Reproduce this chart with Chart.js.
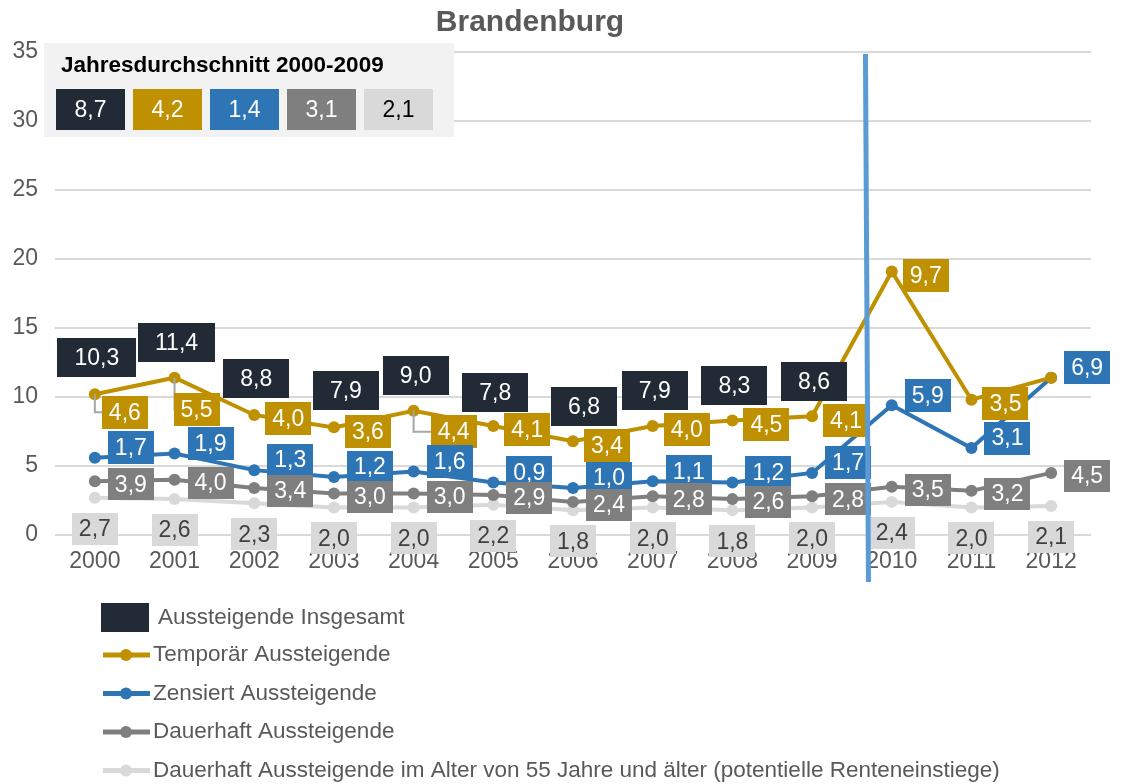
<!DOCTYPE html>
<html lang="de">
<head>
<meta charset="utf-8">
<title>Brandenburg</title>
<script src="https://cdn.jsdelivr.net/npm/chart.js@4.4.1/dist/chart.umd.min.js"></script>
<style>
  html, body { margin: 0; padding: 0; background: #fff; }
  #wrap { width: 1124px; height: 784px; position: relative; }
</style>
</head>
<body>
<div id="wrap"><canvas id="chart" width="1124" height="784"></canvas></div>
<script>
// Werte
const years = ['2000', '2001', '2002', '2003', '2004', '2005', '2006', '2007', '2008', '2009', '2010', '2011', '2012'];
const insgesamt = [10.3, 11.4, 8.8, 7.9, 9.0, 7.8, 6.8, 7.9, 8.3, 8.6, null, null, null];
// 2012: kein Etikett, Linie endet auf dem Zensiert-Punkt -> 0
const temporaer = [4.6, 5.5, 4.0, 3.6, 4.4, 4.1, 3.4, 4.0, 4.5, 4.1, 9.7, 3.5, 0];
const zensiert = [1.7, 1.9, 1.3, 1.2, 1.6, 0.9, 1.0, 1.1, 1.2, 1.7, 5.9, 3.1, 6.9];
const dauerhaft = [3.9, 4.0, 3.4, 3.0, 3.0, 2.9, 2.4, 2.8, 2.6, 2.8, 3.5, 3.2, 4.5];
const dauerhaft55 = [2.7, 2.6, 2.3, 2.0, 2.0, 2.2, 1.8, 2.0, 1.8, 2.0, 2.4, 2.0, 2.1];
const durchschnitt = [8.7, 4.2, 1.4, 3.1, 2.1]; // Jahresdurchschnitt 2000-2009
const yMin = 0, yMax = 35, yStep = 5;

const FONT = "'Liberation Sans', Arial, sans-serif";
const colors = {
  insgesamt: '#222a35',
  temporaer: '#bf9000',
  zensiert: '#2e75b6',
  dauerhaft: '#7f7f7f',
  dauerhaft55: '#d9d9d9'
};

// the lines are drawn stacked: dauerhaft, + zensiert, + temporaer
const zensiertTop = zensiert.map((v, i) => v + dauerhaft[i]);
const temporaerTop = temporaer.map((v, i) => v + zensiertTop[i]);

function fmt(v) {
  return v.toFixed(1).replace('.', ',');
}

function lineSet(label, data, color, raw) {
  return {
    label: label,
    data: data,
    raw: raw,
    borderColor: color,
    backgroundColor: color,
    borderWidth: 4,
    pointRadius: 6,
    pointBorderWidth: 0,
    pointBackgroundColor: color,
    tension: 0,
    fill: false
  };
}

const datasets = [
  lineSet('Temporär Aussteigende', temporaerTop, colors.temporaer, temporaer),
  lineSet('Zensiert Aussteigende', zensiertTop, colors.zensiert, zensiert),
  lineSet('Dauerhaft Aussteigende', dauerhaft, colors.dauerhaft, dauerhaft),
  lineSet('Dauerhaft Aussteigende im Alter von 55 Jahre und älter (potentielle Renteneinstiege)', dauerhaft55, colors.dauerhaft55, dauerhaft55),
  {
    label: 'Aussteigende Insgesamt',
    data: insgesamt,
    raw: insgesamt,
    showLine: false,
    pointRadius: 0,
    borderColor: colors.insgesamt,
    backgroundColor: colors.insgesamt
  }
];

// label box styles per dataset index
const labelStyles = [
  { dx: 34, dy: 4, padX: 7, h: 33, fill: colors.temporaer, color: '#ffffff' },
  { dx: 36, dy: -10, padX: 7, h: 33, fill: colors.zensiert, color: '#ffffff' },
  { dx: 36, dy: 3, padX: 7, h: 32, fill: colors.dauerhaft, color: '#ffffff' },
  { dx: 0, dy: 31, padX: 7, h: 32, fill: colors.dauerhaft55, color: '#404040' },
  { dx: 2, dy: -35, padX: 17, h: 39, fill: colors.insgesamt, color: '#ffffff' }
];

// labels that were moved by hand in the original (dataset index -> year index -> [dx, dy])
const labelNudges = {
  0: { 0: [-4, 14], 1: [-12, 28], 4: [6, 17] },
  4: { 3: [10, 0], 6: [9, 0] }
};

function drawBox(ctx, text, cx, cy, padX, h, fill, color) {
  const w = ctx.measureText(text).width + padX * 2;
  ctx.fillStyle = fill;
  ctx.fillRect(Math.round(cx - w / 2), Math.round(cy - h / 2), Math.round(w), h);
  ctx.fillStyle = color;
  ctx.fillText(text, cx, cy + 1);
  return { l: cx - w / 2, r: cx + w / 2, t: cy - h / 2, b: cy + h / 2 };
}

const labelPlugin = {
  id: 'boxLabels',
  afterDatasetsDraw(chart) {
    const ctx = chart.ctx;
    ctx.save();
    ctx.font = '23px ' + FONT;
    ctx.textAlign = 'center';
    ctx.textBaseline = 'middle';
    // same order as the legend: totals first
    [4, 0, 1, 2, 3].forEach(di => {
      const ds = chart.data.datasets[di];
      const meta = chart.getDatasetMeta(di);
      const st = labelStyles[di];
      meta.data.forEach((pt, i) => {
        const v = ds.raw[i];
        if (v === null || v === 0) return;
        const n = (labelNudges[di] && labelNudges[di][i]) || [0, 0];
        const cx = pt.x + st.dx + n[0];
        const cy = pt.y + st.dy + n[1];
        if (n[1] > 10) {
          // leader line for a moved label
          ctx.strokeStyle = '#a6a6a6';
          ctx.lineWidth = 2;
          ctx.beginPath();
          ctx.moveTo(pt.x, pt.y);
          ctx.lineTo(pt.x, cy);
          ctx.lineTo(cx - 10, cy);
          ctx.stroke();
        }
        drawBox(ctx, fmt(v), cx, cy, st.padX, st.h, st.fill, st.color);
      });
    });
    ctx.restore();
  }
};

const extrasPlugin = {
  id: 'extras',
  afterDraw(chart) {
    const ctx = chart.ctx;
    const xs = chart.scales.x;
    ctx.save();

    // title
    ctx.fillStyle = '#595959';
    ctx.font = 'bold 30px ' + FONT;
    ctx.textAlign = 'center';
    ctx.textBaseline = 'middle';
    ctx.fillText('Brandenburg', 530, 23);

    // Jahresdurchschnitt box
    ctx.fillStyle = '#f2f2f2';
    ctx.fillRect(44, 43, 410, 94);
    ctx.fillStyle = '#000000';
    ctx.font = 'bold 22.5px ' + FONT;
    ctx.textAlign = 'left';
    ctx.fillText('Jahresdurchschnitt 2000-2009', 61, 66);
    const avgFills = [colors.insgesamt, colors.temporaer, colors.zensiert, colors.dauerhaft, colors.dauerhaft55];
    const avgText = ['#ffffff', '#ffffff', '#ffffff', '#ffffff', '#000000'];
    ctx.font = '23px ' + FONT;
    ctx.textAlign = 'center';
    durchschnitt.forEach((v, i) => {
      const x = 56 + i * 77;
      ctx.fillStyle = avgFills[i];
      ctx.fillRect(x, 89, 69, 41);
      ctx.fillStyle = avgText[i];
      ctx.fillText(fmt(v), x + 34.5, 111);
    });

    // vertical marker between 2009 and 2010
    const x9 = xs.getPixelForValue(9);
    const x10 = xs.getPixelForValue(10);
    const mx = x9 + (x10 - x9) * 0.67;
    ctx.strokeStyle = '#5b9bd5';
    ctx.lineWidth = 5;
    ctx.beginPath();
    ctx.moveTo(mx, chart.chartArea.top + 2);
    ctx.lineTo(mx + 3, 582);
    ctx.stroke();

    // legend
    ctx.font = '22.5px ' + FONT;
    ctx.textAlign = 'left';
    ctx.textBaseline = 'middle';
    ctx.fillStyle = colors.insgesamt;
    ctx.fillRect(101, 603, 48, 29);
    ctx.fillStyle = '#595959';
    ctx.fillText('Aussteigende Insgesamt', 158, 618);
    [0, 1, 2, 3].forEach((di, k) => {
      const ds = chart.data.datasets[di];
      const y = 655 + k * 38.5;
      ctx.strokeStyle = ds.borderColor;
      ctx.lineWidth = 5;
      ctx.beginPath();
      ctx.moveTo(103, y);
      ctx.lineTo(150, y);
      ctx.stroke();
      ctx.fillStyle = ds.borderColor;
      ctx.beginPath();
      ctx.arc(126, y, 6, 0, Math.PI * 2);
      ctx.fill();
      ctx.fillStyle = '#595959';
      ctx.fillText(ds.label, 153, y);
    });
    ctx.restore();
  }
};

new Chart(document.getElementById('chart'), {
  type: 'line',
  data: { labels: years, datasets: datasets },
  options: {
    responsive: false,
    animation: false,
    events: [],
    layout: { padding: { left: 0, right: 33, top: 52, bottom: 209 } },
    plugins: {
      legend: { display: false },
      title: { display: false },
      tooltip: { enabled: false }
    },
    scales: {
      x: {
        offset: true,
        grid: { display: false, drawTicks: false },
        border: { display: false },
        ticks: { color: '#595959', font: { size: 23, family: FONT }, padding: 13, maxRotation: 0 },
        afterFit: s => { s.height = 40; }
      },
      y: {
        min: yMin,
        max: yMax,
        grid: { color: '#d9d9d9', lineWidth: 2, drawTicks: false },
        border: { display: false },
        ticks: { stepSize: yStep, color: '#595959', font: { size: 23, family: FONT }, padding: 17 },
        afterFit: s => { s.width = 55; }
      }
    }
  },
  plugins: [labelPlugin, extrasPlugin]
});
</script>
</body>
</html>
